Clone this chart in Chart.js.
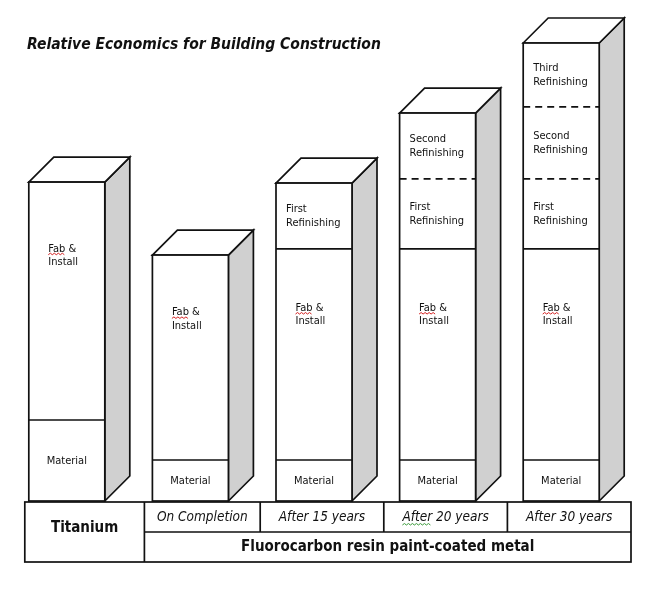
<!DOCTYPE html>
<html>
<head>
<meta charset="utf-8">
<title>Relative Economics for Building Construction</title>
<script src="https://cdn.jsdelivr.net/npm/chart.js@4.4.3/dist/chart.umd.min.js"></script>
<style>
  html, body { margin: 0; padding: 0; background: #fff; }
  #wrap { width: 650px; height: 590px; }
</style>
</head>
<body>
<div id="wrap"><canvas id="chart" width="650" height="590"></canvas></div>
<script>
  /* ── Data (relative cost units) ─────────────────────────────────────── */
  const TITLE = "Relative Economics for Building Construction";
  const CATEGORIES = ["Titanium", "On Completion", "After 15 years", "After 20 years", "After 30 years"];
  const GROUP_LABEL = "Fluorocarbon resin paint-coated metal";

  const MATERIAL        = [33.2, 16.8, 16.8, 16.8, 16.8];
  const FAB_INSTALL     = [97.5, 84.0, 86.5, 86.5, 86.5];
  const FIRST_REFINISH  = [null, null, 27.0, 28.7, 28.7];
  const SECOND_REFINISH = [null, null, null, 27.0, 29.5];
  const THIRD_REFINISH  = [null, null, null, null, 26.2];

  const SEGMENT_LINES = [
    ["Material"],
    ["Fab &", "Install"],
    ["First", "Refinishing"],
    ["Second", "Refinishing"],
    ["Third", "Refinishing"],
  ];
  const Y_MAX = 200;

  /* ── Styles ─────────────────────────────────────────────────────────── */
  const FONT   = "'DejaVu Sans Condensed', 'DejaVu Sans', sans-serif";
  const DEPTH  = 25;
  const SIDE   = "#d0d0d0";
  const INK    = "#111";
  const LW     = 1.7;

  function squiggle(ctx, x0, x1, y, color) {
    ctx.save();
    ctx.strokeStyle = color;
    ctx.lineWidth = 1;
    ctx.setLineDash([]);
    ctx.beginPath();
    let up = true;
    ctx.moveTo(x0, y);
    for (let x = x0 + 2; x <= x1; x += 2) {
      ctx.lineTo(x, up ? y - 1.5 : y);
      up = !up;
    }
    ctx.stroke();
    ctx.restore();
  }

  /* ── 3D boxes + segment labels ──────────────────────────────────────── */
  const boxes = {
    id: "boxes",
    afterDatasetsDraw(chart) {
      const ctx = chart.ctx;
      ctx.save();
      ctx.lineJoin = "miter";
      ctx.strokeStyle = INK;
      ctx.lineWidth = LW;

      CATEGORIES.forEach((_, ci) => {
        const segs = [];
        chart.data.datasets.forEach((ds, di) => {
          if (ds.data[ci] == null) return;
          const p = chart.getDatasetMeta(di).data[ci].getProps(["x", "y", "base", "width"], true);
          segs.push({
            di,
            left: p.x - p.width / 2,
            right: p.x + p.width / 2,
            top: Math.min(p.y, p.base),
            bottom: Math.max(p.y, p.base),
          });
        });
        if (!segs.length) return;
        const left = segs[0].left, right = segs[0].right;
        const bottom = segs[0].bottom, top = segs[segs.length - 1].top;

        // side face
        ctx.setLineDash([]);
        ctx.beginPath();
        ctx.moveTo(right, top);
        ctx.lineTo(right + DEPTH, top - DEPTH);
        ctx.lineTo(right + DEPTH, bottom - DEPTH);
        ctx.lineTo(right, bottom);
        ctx.closePath();
        ctx.fillStyle = SIDE;
        ctx.fill();
        ctx.stroke();

        // top face
        ctx.beginPath();
        ctx.moveTo(left, top);
        ctx.lineTo(left + DEPTH, top - DEPTH);
        ctx.lineTo(right + DEPTH, top - DEPTH);
        ctx.lineTo(right, top);
        ctx.closePath();
        ctx.fillStyle = "#fff";
        ctx.fill();
        ctx.stroke();

        // front
        ctx.fillRect(left, top, right - left, bottom - top);
        ctx.strokeRect(left, top, right - left, bottom - top);

        // separators (dashed between refinishings)
        for (let k = 1; k < segs.length; k++) {
          const dashed = segs[k].di >= 2 && segs[k - 1].di >= 2;
          ctx.setLineDash(dashed ? [7, 5] : []);
          ctx.beginPath();
          ctx.moveTo(left, segs[k].bottom);
          ctx.lineTo(right, segs[k].bottom);
          ctx.stroke();
        }
        ctx.setLineDash([]);

        // labels
        ctx.fillStyle = INK;
        ctx.font = "11px " + FONT;
        ctx.textBaseline = "middle";
        segs.forEach((s) => {
          const lines = SEGMENT_LINES[s.di];
          const h = s.bottom - s.top;
          if (s.di === 0) {
            ctx.textAlign = "center";
            ctx.fillText(lines[0], (left + right) / 2, (s.top + s.bottom) / 2 + 1);
          } else if (s.di === 1) {
            ctx.textAlign = "left";
            const y0 = s.bottom - 0.72 * h;
            const x0 = left + 19.5;
            ctx.fillText(lines[0], x0, y0);
            ctx.fillText(lines[1], x0, y0 + 13.5);
            squiggle(ctx, x0, x0 + ctx.measureText("Fab").width, y0 + 6, "#d42020");
            ctx.fillStyle = INK;
          } else {
            ctx.textAlign = "left";
            const cy = (s.top + s.bottom) / 2;
            ctx.fillText(lines[0], left + 10, cy - 7);
            ctx.fillText(lines[1], left + 10, cy + 7);
          }
        });
      });
      ctx.restore();
    },

    /* ── Title + category table ───────────────────────────────────────── */
    afterDraw(chart) {
      const ctx = chart.ctx;
      const xs = chart.scales.x;
      const area = chart.chartArea;
      const step = xs.getPixelForValue(1) - xs.getPixelForValue(0);
      const barW = chart.getDatasetMeta(0).data[0].width;

      ctx.save();
      ctx.fillStyle = INK;
      ctx.font = "italic bold 15.5px " + FONT;
      ctx.textAlign = "left";
      ctx.textBaseline = "middle";
      ctx.fillText(TITLE, 27, 45);

      const top = area.bottom + 1, rowH = 30;
      const edges = [xs.getPixelForValue(0) - barW / 2 - 4, xs.getPixelForValue(1) - barW / 2 - 8];
      for (let i = 1; i < CATEGORIES.length; i++) edges.push(xs.getPixelForValue(i) + step / 2 + 8);

      ctx.strokeStyle = INK;
      ctx.lineWidth = LW;
      ctx.fillStyle = "#fff";
      ctx.fillRect(edges[0], top, edges[5] - edges[0], rowH * 2);
      ctx.strokeRect(edges[0], top, edges[5] - edges[0], rowH * 2);
      ctx.beginPath();
      ctx.moveTo(edges[1], top); ctx.lineTo(edges[1], top + rowH * 2);
      ctx.moveTo(edges[1], top + rowH); ctx.lineTo(edges[5], top + rowH);
      for (let i = 2; i < 5; i++) { ctx.moveTo(edges[i], top); ctx.lineTo(edges[i], top + rowH); }
      ctx.stroke();

      ctx.fillStyle = INK;
      ctx.textAlign = "center";
      ctx.font = "bold 15px " + FONT;
      ctx.fillText(CATEGORIES[0], (edges[0] + edges[1]) / 2, top + rowH - 4);
      ctx.fillText(GROUP_LABEL, (edges[1] + edges[5]) / 2, top + rowH * 1.5);

      ctx.font = "italic 13.5px " + FONT;
      for (let i = 1; i < 5; i++) {
        const cx = (edges[i] + edges[i + 1]) / 2;
        ctx.fillText(CATEGORIES[i], cx, top + rowH / 2);
        if (i === 3) {
          const x0 = cx - ctx.measureText(CATEGORIES[i]).width / 2;
          squiggle(ctx, x0, x0 + ctx.measureText("After").width, top + rowH / 2 + 8, "#3a9a3a");
          ctx.fillStyle = INK;
        }
      }
      ctx.restore();
    },
  };

  /* ── Chart ──────────────────────────────────────────────────────────── */
  const series = [MATERIAL, FAB_INSTALL, FIRST_REFINISH, SECOND_REFINISH, THIRD_REFINISH];
  new Chart(document.getElementById("chart"), {
    type: "bar",
    data: {
      labels: CATEGORIES,
      datasets: series.map((data, i) => ({
        label: SEGMENT_LINES[i].join(" "),
        data,
        backgroundColor: "#fff",
        borderWidth: 0,
        barThickness: 76,
      })),
    },
    options: {
      responsive: false,
      animation: false,
      layout: { padding: { top: 13, bottom: 89, left: 5, right: 27 } },
      plugins: { legend: { display: false }, tooltip: { enabled: false }, title: { display: false } },
      scales: {
        x: { stacked: true, display: false },
        y: { stacked: true, display: false, min: 0, max: Y_MAX },
      },
    },
    plugins: [boxes],
  });
</script>
</body>
</html>
